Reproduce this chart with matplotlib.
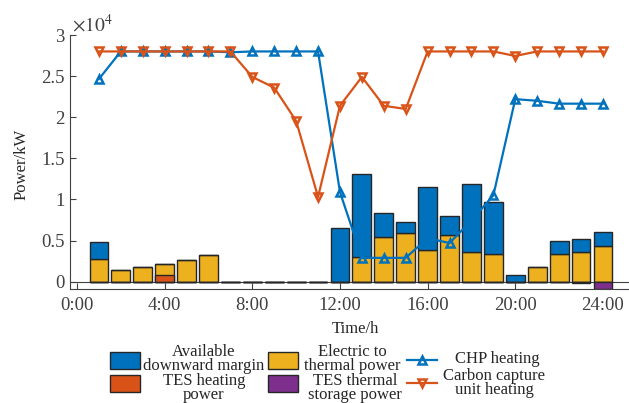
import matplotlib
matplotlib.use('Agg')
import matplotlib.pyplot as plt
from matplotlib.patches import Rectangle
from matplotlib.lines import Line2D

plt.rcParams['font.family'] = ['Liberation Serif', 'DejaVu Serif']
plt.rcParams['mathtext.fontset'] = 'stix'

# hourly values, kW
hours = list(range(1, 25))
elec_to_thermal = [2700, 1400, 1800, 2200, 2650, 3250, 0, 0, 0, 0, 0, 0,
                   3000, 5400, 5900, 3800, 5650, 3650, 3350, 0, 1800, 3400, 3650, 4400]
down_margin = [2100, 0, 0, 0, 0, 0, 0, 0, 0, 0, 0, 6500,
               10100, 3000, 1400, 7750, 2350, 8250, 6350, 800, 0, 1500, 1500, 1600]
tes_heating = [0, 0, 0, 800, 0, 0, 0, 0, 0, 0, 0, 0,
               0, 0, 0, 0, 0, 0, 0, 0, 0, 0, 0, 0]
tes_storage = [0, 0, 0, 0, 0, 0, 0, 0, 0, 0, 0, 0,
               0, 0, 0, 0, 0, 0, 0, 0, 0, 0, -100, -900]
chp_heat = [24650, 28000, 28000, 28000, 28000, 28000, 27900, 28000, 28000, 28000, 28000, 10900,
            2900, 2900, 2900, 5300, 4700, 7450, 10500, 22200, 22000, 21650, 21650, 21650]
ccu_heat = [28000, 28000, 28000, 28000, 28000, 28000, 28000, 24900, 23600, 19550, 10300, 21400,
            24900, 21400, 21000, 28000, 28000, 28000, 28000, 27450, 28000, 28000, 28000, 28000]

xticks = [0, 4, 8, 12, 16, 20, 24]
xticklabels = ['0:00', '4:00', '8:00', '12:00', '16:00', '20:00', '24:00']
yticks = [0, 5000, 10000, 15000, 20000, 25000, 30000]
yticklabels = ['0', '0.5', '1', '1.5', '2', '2.5', '3']

c_blue = '#0072BD'
c_orange = '#D95319'
c_yellow = '#EDB120'
c_purple = '#7E2F8E'
c_edge = '#262626'
c_axis = '#404040'

W, H = 629, 403
fig = plt.figure(figsize=(W / 100, H / 100), dpi=100)

def fx(x):
    return x / W

def fy(y):
    return (H - y) / H

ax = fig.add_axes([fx(70), fy(289), 1 - fx(70), fy(35) - fy(289)])

bw = 0.86
ax.bar(hours, elec_to_thermal, width=bw, color=c_yellow, edgecolor=c_edge, lw=1.0, zorder=2)
ax.bar(hours, down_margin, width=bw, bottom=elec_to_thermal, color=c_blue, edgecolor=c_edge, lw=1.0, zorder=2)
ax.bar(hours, tes_heating, width=bw, color=c_orange, edgecolor=c_edge, lw=1.0, zorder=2)
ax.bar(hours, tes_storage, width=bw, color=c_purple, edgecolor=c_edge, lw=1.0, zorder=2)
ax.axhline(0, color=c_axis, lw=0.8, zorder=1.5)

mk_style = dict(ms=6, mfc='none', mew=1.8)
ax.plot(hours, chp_heat, color=c_blue, lw=1.6, marker='^', zorder=3, **mk_style)
ax.plot(hours, ccu_heat, color=c_orange, lw=1.6, marker='v', zorder=3, **mk_style)

ax.set_xlim(-0.32, 25.19)
ax.set_ylim(-888, 30000)
ax.set_xticks(xticks)
ax.set_xticklabels(xticklabels)
ax.set_yticks(yticks)
ax.set_yticklabels(yticklabels)
ax.tick_params(direction='in', length=4, width=0.8, colors=c_axis, labelsize=13.5)
ax.tick_params(axis='x', pad=6)
ax.tick_params(axis='y', pad=4)
for s in ['top', 'right']:
    ax.spines[s].set_visible(False)
for s in ['left', 'bottom']:
    ax.spines[s].set_color(c_axis)
    ax.spines[s].set_linewidth(0.8)

fig.text(fx(72), fy(32), r'$\times10^{4}$', fontsize=14, color=c_axis, va='baseline', ha='left')
fig.text(fx(21.5), fy(164), 'Power/kW', rotation=90, fontsize=12, color=c_edge, ha='center', va='center')
fig.text(fx(355), fy(329), 'Time/h', fontsize=12, color=c_edge, ha='center', va='center')

# legend, drawn by hand to match the overlapping two-line layout
patches = [(110, 352, c_blue), (110, 375, c_orange), (268, 352, c_yellow), (268, 375, c_purple)]
for px, py, col in patches:
    fig.add_artist(Rectangle((fx(px), fy(py + 17)), 30 / W, 17 / H, transform=fig.transFigure,
                             facecolor=col, edgecolor=c_edge, lw=1.0))
for py, col, mk in [(360, c_blue, '^'), (383, c_orange, 'v')]:
    fig.add_artist(Line2D([fx(407), fx(422), fx(437)], [fy(py)] * 3, transform=fig.transFigure,
                          color=col, lw=1.6, marker=mk, markevery=[1], **mk_style))
labels = [(204, 359, 'Available\ndownward margin'), (204, 388, 'TES heating\npower'),
          (352, 359, 'Electric to\nthermal power'), (355, 388, 'TES thermal\nstorage power'),
          (497, 359, 'CHP heating'), (494, 383, 'Carbon capture\nunit heating')]
for px, py, txt in labels:
    fig.text(fx(px), fy(py), txt, fontsize=12, color=c_edge, ha='center', va='center',
             multialignment='center', linespacing=0.82)

fig.savefig('out.png', dpi=100)
